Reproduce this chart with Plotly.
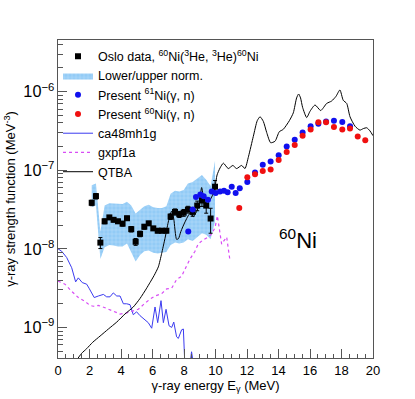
import numpy as np
import plotly.graph_objects as go

# ─── Data ────────────────────────────────────────────────────────────────────

# Oslo data, 60Ni(3He,3He)60Ni
oslo_e = [2.14, 2.41, 2.69, 2.96, 3.26, 3.53, 3.81, 4.10, 4.38, 4.65,
          4.93, 5.21, 5.48, 5.76, 6.05, 6.33, 6.60, 6.88, 7.15, 7.43,
          7.70, 7.98, 8.25, 8.55, 8.84, 9.14, 9.41, 9.69, 9.97]
oslo_f = [3.85e-8, 4.68e-8, 1.20e-8, 2.24e-8, 2.51e-8, 2.34e-8, 2.24e-8, 2.09e-8, 2.45e-8, 1.78e-8,
          1.23e-8, 1.55e-8, 1.91e-8, 2.11e-8, 1.82e-8, 1.70e-8, 1.70e-8, 1.70e-8, 2.57e-8, 2.95e-8,
          2.75e-8, 2.88e-8, 3.16e-8, 2.95e-8, 3.55e-8, 4.12e-8, 3.55e-8, 2.43e-8, 6.17e-8]
oslo_rel_err = [0.08, 0.08, 0.16, 0.07, 0.06, 0.06, 0.06, 0.07, 0.06, 0.08,
                0.10, 0.08, 0.07, 0.06, 0.06, 0.06, 0.06, 0.06, 0.08, 0.09,
                0.09, 0.10, 0.10, 0.12, 0.14, 0.16, 0.20, 0.35, 0.20]

# lower/upper normalisation band
band_upper = [6.46e-8, 6.76e-8, 1.66e-8, 3.55e-8, 3.80e-8, 3.80e-8, 3.72e-8, 3.72e-8, 3.98e-8, 3.55e-8,
              2.82e-8, 3.16e-8, 3.47e-8, 3.63e-8, 3.39e-8, 3.31e-8, 3.31e-8, 3.47e-8, 5.01e-8, 5.50e-8,
              5.37e-8, 5.62e-8, 6.76e-8, 7.08e-8, 7.94e-8, 8.71e-8, 7.59e-8, 6.31e-8, 1.32e-7]
band_lower = [3.39e-8, 3.55e-8, 7.41e-9, 1.05e-8, 1.12e-8, 1.10e-8, 1.07e-8, 1.07e-8, 1.17e-8, 8.91e-9,
              6.92e-9, 8.32e-9, 9.33e-9, 9.55e-9, 8.91e-9, 8.71e-9, 8.91e-9, 9.12e-9, 1.12e-8, 1.20e-8,
              1.17e-8, 1.20e-8, 1.32e-8, 1.26e-8, 1.41e-8, 1.58e-8, 1.51e-8, 1.32e-8, 2.24e-8]

# Present 61Ni(g,n)
ni61_e = [8.27, 8.55, 8.76, 9.04, 9.25, 9.52, 9.76, 10.01, 10.29, 10.54,
          10.77, 11.03, 11.28, 11.54, 12.02, 12.51, 13.00, 13.50, 14.01, 14.52,
          15.03, 15.53, 16.04, 16.53, 17.02, 17.52, 18.05, 18.54]
ni61_f = [1.66e-8, 3.16e-8, 4.57e-8, 4.90e-8, 4.68e-8, 4.22e-8, 5.37e-8, 5.13e-8, 5.37e-8, 5.50e-8,
          5.25e-8, 6.17e-8, 5.13e-8, 5.89e-8, 7.08e-8, 9.33e-8, 1.17e-7, 1.29e-7, 1.55e-7, 2.00e-7,
          2.45e-7, 3.02e-7, 3.63e-7, 3.89e-7, 4.17e-7, 4.27e-7, 4.12e-7, 3.63e-7]

# Present 60Ni(g,n)
ni60_e = [11.51, 12.02, 12.51, 13.00, 13.50, 14.01, 14.52, 15.03, 15.53, 16.04,
          16.53, 17.02, 17.52, 18.05, 18.54, 19.03, 19.51]
ni60_f = [3.31e-8, 8.13e-8, 8.91e-8, 9.77e-8, 1.02e-7, 1.35e-7, 1.70e-7, 2.09e-7, 2.75e-7, 3.31e-7,
          4.07e-7, 4.07e-7, 3.55e-7, 3.31e-7, 3.39e-7, 2.69e-7, 2.40e-7]

# shell model ca48mh1g
ca48_e = [0.0, 0.23, 0.55, 0.87, 1.12, 1.29, 1.54, 1.82, 1.97, 2.30,
          2.56, 2.88, 3.09, 3.30, 3.51, 3.73, 3.94, 4.15, 4.36, 4.57,
          4.78, 4.99, 5.21, 5.42, 5.73, 5.95, 6.16, 6.33, 6.54, 6.69,
          6.86, 7.05, 7.22, 7.35, 7.53, 7.64, 7.85, 7.96, 8.08, 8.30,
          8.48, 8.70]
ca48_f = [1.00e-8, 9.33e-9, 7.76e-9, 5.75e-9, 3.80e-9, 4.27e-9, 3.72e-9, 3.55e-9, 3.16e-9, 2.40e-9,
          2.51e-9, 2.63e-9, 2.45e-9, 2.45e-9, 2.75e-9, 2.51e-9, 2.51e-9, 2.00e-9, 2.00e-9, 1.95e-9,
          1.45e-9, 1.58e-9, 1.41e-9, 1.29e-9, 1.15e-9, 9.77e-10, 1.82e-9, 1.15e-9, 2.19e-9, 1.15e-9,
          1.70e-9, 1.05e-9, 1.00e-9, 1.17e-9, 7.59e-10, 7.24e-10, 9.33e-10, 9.55e-10, 2.51e-10, 2.51e-10,
          4.90e-10, 2.51e-10]

# shell model gxpf1a
gxpf_e = [0.0, 0.44, 0.87, 1.29, 1.71, 2.03, 2.24, 2.56, 2.98, 3.51,
          3.94, 4.25, 4.68, 5.10, 5.42, 5.84, 6.16, 6.58, 6.90, 7.22,
          7.53, 7.85, 8.06, 8.38, 8.70, 8.90, 9.19, 9.54, 9.76, 9.97,
          10.12, 10.25, 10.39, 10.60, 10.71, 10.92]
gxpf_f = [3.89e-9, 3.55e-9, 2.88e-9, 2.40e-9, 2.14e-9, 1.91e-9, 1.86e-9, 1.91e-9, 1.78e-9, 1.62e-9,
          1.48e-9, 1.51e-9, 1.62e-9, 1.70e-9, 1.95e-9, 2.29e-9, 2.51e-9, 2.69e-9, 3.09e-9, 3.16e-9,
          4.07e-9, 4.47e-9, 5.50e-9, 7.41e-9, 9.33e-9, 1.15e-8, 1.29e-8, 1.41e-8, 1.55e-8, 1.86e-8,
          2.63e-8, 1.78e-8, 1.15e-8, 1.32e-8, 1.41e-8, 7.08e-9]

# QTBA
qtba_e = [1.0, 1.5, 1.82, 2.2, 2.67, 3.2, 3.73, 4.25, 4.78, 5.21,
          5.6, 5.84, 6.1, 6.37, 6.58, 6.79, 7.0, 7.11, 7.22, 7.35,
          7.53, 7.65, 7.8, 8.06, 8.38, 8.59, 8.9, 9.05, 9.12, 9.25,
          9.44, 9.65, 9.85, 9.97, 10.1, 10.29, 10.5, 10.81, 11.1, 11.34,
          11.66, 11.87, 12.1, 12.4, 12.65, 12.83, 13.04, 13.25, 13.5, 13.78,
          14.05, 14.3, 14.69, 14.94, 15.15, 15.28, 15.4, 15.53, 15.79, 16.0,
          16.32, 16.68, 17.06, 17.37, 17.65, 17.9, 18.11, 18.33, 18.54, 18.86,
          19.17, 19.39, 19.6, 19.81, 20.0]
qtba_f = [3.39e-10, 4.68e-10, 5.37e-10, 6.46e-10, 7.76e-10, 9.55e-10, 1.17e-9, 1.48e-9, 1.82e-9, 2.34e-9,
          3.09e-9, 3.72e-9, 4.57e-9, 5.89e-9, 8.71e-9, 1.35e-8, 2.19e-8, 2.69e-8, 3.02e-8, 2.40e-8,
          1.32e-8, 1.35e-8, 1.66e-8, 2.19e-8, 2.82e-8, 2.57e-8, 3.31e-8, 5.01e-8, 6.03e-8, 4.47e-8,
          3.72e-8, 4.17e-8, 5.01e-8, 6.17e-8, 8.71e-8, 1.07e-7, 1.23e-7, 1.05e-7, 1.15e-7, 1.05e-7,
          1.15e-7, 1.05e-7, 1.51e-7, 2.69e-7, 4.27e-7, 4.79e-7, 4.17e-7, 3.02e-7, 2.24e-7, 2.34e-7,
          3.09e-7, 3.31e-7, 4.27e-7, 5.37e-7, 8.32e-7, 9.33e-7, 8.32e-7, 6.31e-7, 4.68e-7, 5.62e-7,
          6.76e-7, 5.75e-7, 7.08e-7, 7.59e-7, 8.71e-7, 1.05e-6, 7.76e-7, 7.08e-7, 4.79e-7, 3.63e-7,
          3.24e-7, 3.39e-7, 3.47e-7, 3.16e-7, 2.75e-7]

FONT = "Liberation Sans, Arial, sans-serif"

fig = go.Figure()

# band drawn as closed polygon
fig.add_trace(go.Scatter(
    x=oslo_e + oslo_e[::-1], y=band_upper + band_lower[::-1],
    fill="toself", mode="lines", line=dict(width=0, color="#5b7fa8"),
    fillcolor="#9fd0f7",
    fillpattern=dict(shape="+", bgcolor="#93cbf6", fgcolor="#d8edfd",
                     size=4, solidity=0.25, fillmode="overlay"),
    name="Lower/upper norm.", legendrank=2))

fig.add_trace(go.Scatter(
    x=ca48_e, y=ca48_f, mode="lines", line=dict(color="#3a3af0", width=1),
    name="ca48mh1g", legendrank=5))
fig.add_trace(go.Scatter(
    x=gxpf_e, y=gxpf_f, mode="lines",
    line=dict(color="#d84cf5", width=1.2, dash="dot"),
    name="gxpf1a", legendrank=6))
fig.add_trace(go.Scatter(
    x=qtba_e, y=qtba_f, mode="lines", line=dict(color="black", width=1, shape="spline", smoothing=0.6),
    name="QTBA", legendrank=7))

fig.add_trace(go.Scatter(
    x=oslo_e, y=oslo_f, mode="markers",
    marker=dict(symbol="square", size=6, color="black"),
    error_y=dict(type="data", array=[f * r for f, r in zip(oslo_f, oslo_rel_err)],
                 color="black", thickness=1, width=2),
    name="Oslo data, <sup>60</sup>Ni(<sup>3</sup>He, <sup>3</sup>He)<sup>60</sup>Ni",
    legendrank=1))
fig.add_trace(go.Scatter(
    x=ni61_e, y=ni61_f, mode="markers",
    marker=dict(symbol="circle", size=6, color="#1010ee"),
    name="Present <sup>61</sup>Ni(γ, n)", legendrank=3))
fig.add_trace(go.Scatter(
    x=ni60_e, y=ni60_f, mode="markers",
    marker=dict(symbol="circle", size=6, color="#f01010"),
    name="Present <sup>60</sup>Ni(γ, n)", legendrank=4))

fig.add_annotation(x=15.25, y=-7.87, xref="x", yref="y",
                   text="<sup>60</sup>Ni", showarrow=False,
                   font=dict(size=22, color="black", family=FONT))

fig.update_xaxes(range=[0, 20], dtick=2, ticks="inside", ticklen=9, automargin=False,
                 tickcolor="#555", showline=True, linecolor="#555", mirror=True,
                 showgrid=False, zeroline=False,
                 minor=dict(dtick=0.5, ticks="inside", ticklen=4, tickcolor="#555"),
                 tickfont=dict(size=13, family=FONT, color="black"),
                 title=dict(text="γ-ray energy E<sub>γ</sub> (MeV)", standoff=2,
                            font=dict(size=13, family=FONT, color="black")))
fig.update_yaxes(type="log", range=[-9.389, -5.343], dtick=1, exponentformat="power",
                 ticks="inside", ticklen=9, tickcolor="#555", automargin=False,
                 showline=True, linecolor="#555", mirror=True, showgrid=False,
                 minor=dict(dtick="D1", ticks="inside", ticklen=5, tickcolor="#555"),
                 tickfont=dict(size=13, family=FONT, color="black"),
                 title=dict(text="γ-ray strength function (MeV<sup>-3</sup>)", standoff=4,
                            font=dict(size=13, family=FONT, color="black")))

fig.update_layout(
    width=415, height=399,
    margin=dict(l=58, r=42, t=40, b=41, autoexpand=False),
    plot_bgcolor="white", paper_bgcolor="white",
    font=dict(family=FONT, size=13, color="black"),
    legend=dict(x=0.0, y=0.995, xanchor="left", yanchor="top",
                bgcolor="rgba(0,0,0,0)", font=dict(size=12.5, family=FONT),
                tracegroupgap=0, itemwidth=30),
    showlegend=True,
)

# page body has a default 8px margin; remove it so the figure sits at 0,0
fig.write_html("out.html", config={"displayModeBar": False},
               post_script="document.body.style.margin='0';")
